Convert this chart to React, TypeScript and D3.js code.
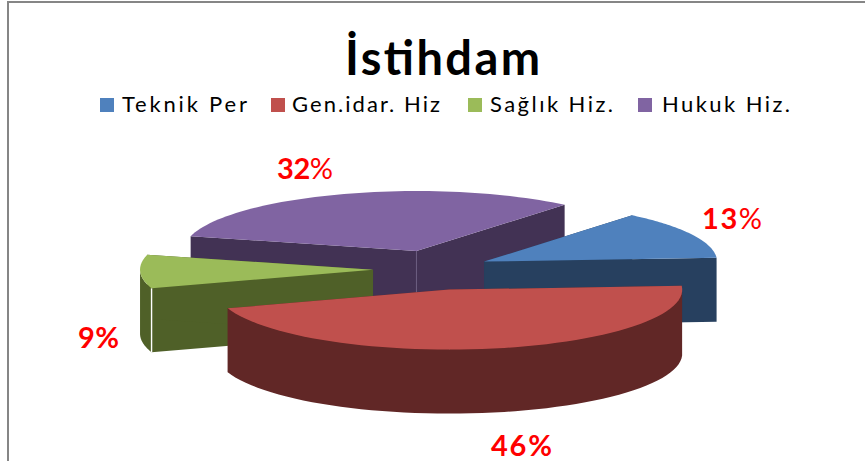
import React from "react";
import * as d3 from "d3";

const title = "İstihdam";
const categories = ["Teknik Per", "Gen.idar. Hiz", "Sağlık Hiz.", "Hukuk Hiz."];
const values = [13, 46, 9, 32];
const explosions = [54, 70, 63, 63];
const topColors = ["#4F81BD", "#C0504D", "#9BBB59", "#8064A2"];
const sideColors = ["#27405F", "#612726", "#4F6028", "#423254"];
const legendSwatchX = [100, 271, 468, 638];
const legendTextX = [122, 292, 490, 662];
const legendTextW = [125, 148, 123, 128];
const labelX = [702, 491, 78, 277];
const labelBase = [229, 456, 348, 179];
const labelW = [60, 61, 41, 56];
const percentWeight = [400, 700, 700, 400];

const W = 865, H = 461;
const cx = 436, cy = 269, rx = 233, ry = 60, depth = 64, tilt = 0.3;
const startDeg = 39.5;

const sx = d3.scaleLinear().domain([-1, 1]).range([-rx, rx]);
const sy = d3.scaleLinear().domain([-1, 1]).range([-ry, ry]);
const line = d3.line<[number, number]>().curve(d3.curveLinear);

const start = (startDeg * Math.PI) / 180;
const arcs = d3.pie<number>().sort(null).startAngle(start).endAngle(start + 2 * Math.PI)(values);

type P = [number, number];
const slices = arcs.map((a, i) => {
  const mid = (a.startAngle + a.endAngle) / 2;
  const e = explosions[i];
  const ax = cx + e * Math.sin(mid);
  const ay = cy - e * tilt * Math.cos(mid);
  const at = (t: number): P => [ax + sx(Math.sin(t)), ay + sy(-Math.cos(t))];
  const n = 60;
  const rim: P[] = d3.range(n + 1).map((k) => at(a.startAngle + ((a.endAngle - a.startAngle) * k) / n));
  const apex: P = [ax, ay];
  return { apex, rim, i };
});
const down = (p: P): P => [p[0], p[1] + depth];
const quad = (a: P, b: P) => line([a, b, down(b), down(a)]) + "Z";

function Slice({ s }: { s: (typeof slices)[number] }) {
  const { apex, rim, i } = s;
  const first = rim[0];
  const last = rim[rim.length - 1];
  const side = sideColors[i];
  // outer wall: only the part of the rim that faces the viewer
  const lower = rim.filter((p) => p[1] >= apex[1]);
  const wall = lower.length > 1 ? line([...lower, ...lower.slice().reverse().map(down)]) + "Z" : null;
  const cutStart = quad(apex, first);
  const cutEnd = quad(apex, last);
  return (
    <g>
      <path d={cutStart} fill={side} />
      <path d={cutEnd} fill={side} />
      {wall && <path d={wall} fill={side} />}
      {i === 3 && <path d={line([apex, down(apex)]) || ""} stroke="#6a5a80" strokeWidth={0.8} />}
      {i === 2 && <path d={line([first, down(first)]) || ""} stroke="#ffffff" strokeWidth={1.4} />}
      <path d={line([apex, ...rim]) + "Z"} fill={topColors[i]} />
    </g>
  );
}

export default function App() {
  const order = [3, 0, 2, 1];
  return (
    <svg width={W} height={H} style={{ position: "absolute", left: 0, top: 0 }}>
      <rect width={W} height={H} fill="#fff" />
      <path d={`M8 ${H}V2H${W}`} fill="none" stroke="#868686" strokeWidth={2} />
      {order.map((i) => <Slice key={i} s={slices[i]} />)}
      <text x={345} y={75} textLength={195} lengthAdjust="spacing" fontFamily="Lato" fontWeight={700} fontSize={47} fill="#000">{title}</text>
      {categories.map((c, i) => (
        <g key={c}>
          <rect x={legendSwatchX[i]} y={98} width={14} height={14} fill={topColors[i]} />
          <text x={legendTextX[i]} y={112} textLength={legendTextW[i]} lengthAdjust="spacing" fontFamily="Lato" fontSize={22} fill="#000">{c}</text>
        </g>
      ))}
      {values.map((v, i) => (
        <text key={i} x={labelX[i]} y={labelBase[i]} textLength={labelW[i]} lengthAdjust="spacing" fontFamily="Lato" fontWeight={700} fontSize={29} fill="#FF0000">
          {v}<tspan fontWeight={percentWeight[i]}>%</tspan>
        </text>
      ))}
    </svg>
  );
}
